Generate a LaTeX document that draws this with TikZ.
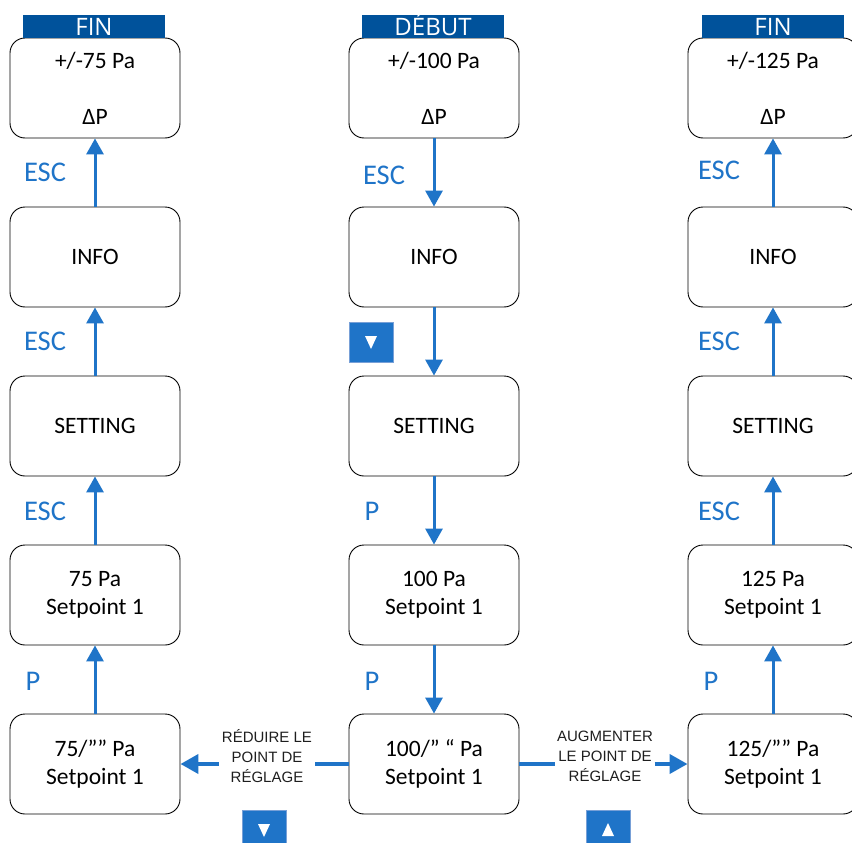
\documentclass[tikz,border=0pt]{standalone}
\usepackage{fontspec}
\setmainfont{Carlito}
\newfontfamily\headfont{Open Sans}
\newfontfamily\notefont{Liberation Sans}
\usetikzlibrary{arrows.meta}
\definecolor{navyblue}{RGB}{0, 82, 155}
\definecolor{keyblue}{RGB}{31, 116, 200}
\definecolor{keyedge}{RGB}{120, 160, 215}
\definecolor{inkgray}{RGB}{30, 30, 30}

\tikzset{
  screen/.style={draw=black, line width=0.9pt, rounded corners=15pt, minimum width=170pt,
                 minimum height=100pt, align=center, font=\fontsize{23.5}{28}\selectfont},
  banner/.style={fill=navyblue, text=white, minimum width=142pt, minimum height=23pt, inner sep=0pt,
                 text height=17.5pt, text depth=0pt, font=\headfont\fontsize{24}{24}\selectfont},
  keylabel/.style={text=keyblue, font=\fontsize{28.5}{28}\selectfont},
  flow/.style={keyblue, line width=3pt, -{Triangle[width=17pt,length=16pt]}},
  wideflow/.style={keyblue, line width=4pt, -{Triangle[width=19pt,length=18pt]}},
  link/.style={keyblue, line width=4pt},
  note/.style={align=center, text=inkgray, font=\notefont\fontsize{15}{20}\selectfont},
  keypad/.style={fill=keyblue, draw=keyedge, line width=0.8pt, minimum width=44pt,
                 minimum height=40pt, inner sep=0pt},
}

\begin{document}
\begin{tikzpicture}[x=1pt, y=-1pt]
    \clip (0,0) rectangle (852,843);
    % left column: lower setpoint
    \node[screen] (fin75)  at ( 95, 88) {+/-75 Pa\\[28pt]ΔP};
    \node[screen] (info75) at ( 95,257) {INFO};
    \node[screen] (set75)  at ( 95,426) {SETTING};
    \node[screen] (sp75)   at ( 95,595) {75 Pa\\Setpoint 1};
    \node[screen] (adj75)  at ( 95,764) {75/”” Pa\\Setpoint 1};
    % middle column: start
    \node[screen] (deb100)  at (434, 88) {+/-100 Pa\\[28pt]ΔP};
    \node[screen] (info100) at (434,257) {INFO};
    \node[screen] (set100)  at (434,426) {SETTING};
    \node[screen] (sp100)   at (434,595) {100 Pa\\Setpoint 1};
    \node[screen] (adj100)  at (434,764) {100/” “ Pa\\Setpoint 1};
    % right column: raise setpoint
    \node[screen] (fin125)  at (773, 88) {+/-125 Pa\\[28pt]ΔP};
    \node[screen] (info125) at (773,257) {INFO};
    \node[screen] (set125)  at (773,426) {SETTING};
    \node[screen] (sp125)   at (773,595) {125 Pa\\Setpoint 1};
    \node[screen] (adj125)  at (773,764) {125/”” Pa\\Setpoint 1};

    \node[banner] (endleft)  at ( 94,26.5) {FIN};
    \node[banner] (start)    at (433,26.5) {DÉBUT};
    \node[banner] (endright) at (773,26.5) {FIN};

    \draw[flow] (adj75.north)  -- (sp75.south);
    \draw[flow] (sp75.north)   -- (set75.south);
    \draw[flow] (set75.north)  -- (info75.south);
    \draw[flow] (info75.north) -- (fin75.south);

    \draw[flow] (deb100.south)  -- (info100.north);
    \draw[flow] (info100.south) -- (set100.north);
    \draw[flow] (set100.south)  -- (sp100.north);
    \draw[flow] (sp100.south)   -- (adj100.north);

    \draw[flow] (adj125.north)  -- (sp125.south);
    \draw[flow] (sp125.north)   -- (set125.south);
    \draw[flow] (set125.north)  -- (info125.south);
    \draw[flow] (info125.north) -- (fin125.south);

    \node[keylabel] (esc75a)  at ( 45,172) {ESC};
    \node[keylabel] (esc75b)  at ( 45,341) {ESC};
    \node[keylabel] (esc75c)  at ( 45,511) {ESC};
    \node[keylabel] (p75)     at ( 33,681) {P};
    \node[keylabel] (esc100)  at (384,175) {ESC};
    \node[keylabel] (p100a)   at (372,511) {P};
    \node[keylabel] (p100b)   at (372,681) {P};
    \node[keylabel] (esc125a) at (719,170) {ESC};
    \node[keylabel] (esc125b) at (719,341) {ESC};
    \node[keylabel] (esc125c) at (719,511) {ESC};
    \node[keylabel] (p125)    at (711,681) {P};

    % bottom row: adjust the setpoint
    \node[note, inner sep=3pt] (reduce) at (267,756) {RÉDUIRE LE\\POINT DE\\RÉGLAGE};
    \node[note, inner sep=1.5pt] (raise)  at (605,756) {AUGMENTER\\LE POINT DE\\RÉGLAGE};
    \draw[link]     (adj100.west) -- (adj100.west -| reduce.east);
    \draw[wideflow] (adj100.west -| reduce.west) -- (adj75.east);
    \draw[link]     (adj100.east) -- (adj100.east -| raise.west);
    \draw[wideflow] (adj100.east -| raise.east) -- (adj125.west);

    \node[keypad] (downmid)   at (371,342) {};
    \node[keypad] (downleft)  at (264,830) {};
    \node[keypad] (upright)   at (608,830) {};
    \fill[white] ([shift={(-6,-6)}]downmid.center)  -- ++(12,0) -- ++(-6,13)  -- cycle;
    \fill[white] ([shift={(-6,-6)}]downleft.center) -- ++(12,0) -- ++(-6,13)  -- cycle;
    \fill[white] ([shift={(-6,6)}]upright.center)   -- ++(12,0) -- ++(-6,-13) -- cycle;
\end{tikzpicture}
\end{document}
